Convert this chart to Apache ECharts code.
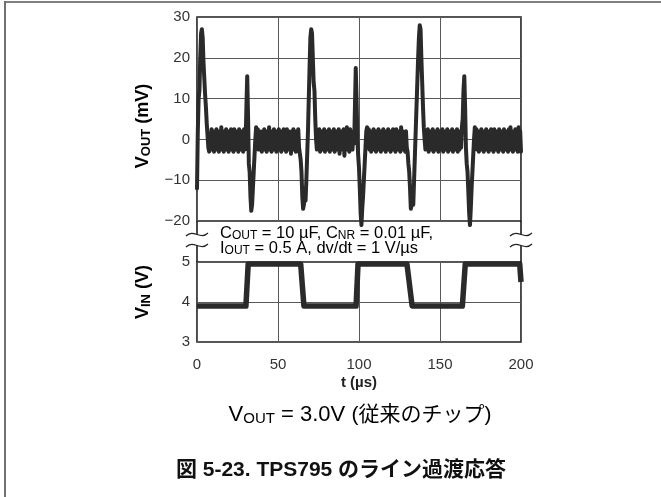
<!DOCTYPE html>
<html>
<head>
<meta charset="utf-8">
<script src="https://cdn.jsdelivr.net/npm/echarts@6/dist/echarts.min.js"></script>
<style>
  html, body { margin: 0; padding: 0; background: #ffffff; }
  #chart { width: 661px; height: 497px; }
</style>
</head>
<body>
<div id="chart"></div>
<script>
// Axis ticks
const timeTicks = [0, 50, 100, 150, 200];      // t (µs)
const voutTicks = [-20, -10, 0, 10, 20, 30];   // VOUT (mV)
const vinTicks = [3, 4, 5];                    // VIN (V)

// Output voltage deviation, sampled every 0.5 µs from t = 0
const voutStartUs = 0;
const voutStepUs = 0.5;
const voutMv = [
  // 0 – 9.5 µs
  -12, 2, 10, 12, 20, 26, 27, 25, 19, 15, 11, 8, 4, 1, -2, -3, 1.5, -2.5, 2.5, -2,
  // 10 – 19.5 µs
  1, -3, 2, -2.5, 2.5, -2, 1.5, -3, 2, -2.5, 3, -2, 1, -3, 2, -2.5, 2.5, -2, 1.5, -3,
  // 20 – 29.5 µs
  2, -2.5, 2.5, -2, 1, -3, 2.5, -2.5, 2, -2, 1.5, -3, 2.5, -2.5, 2, -2, 1, -3, 2.5, -2.5,
  // 30 – 39.5 µs
  -1, 8, 15.5, 6, -6, -8, -14, -17.5, -16, -12, -8, -4, 0, 3, -2, 2.5, -2.5, 2, -2, 1.5,
  // 40 – 49.5 µs
  -3, 2, -2.5, 2.5, -2, 1, -3, 2, -2.5, 3, -2, 1.5, -3, 2, -2.5, 2.5, -2, 1, -3, 2,
  // 50 – 59.5 µs
  -2.5, 2.5, -2, 1.5, -3, 2, -2.5, 2.5, -2, 1, -3, 2.5, -2.5, 2, -2, 1.5, -3.5, 2, -2.5, 2.5,
  // 60 – 69.5 µs
  -2, 1.5, -3, 2, -2.5, 2.5, -2, -2, -5, -8, -14, -17, -16, -12, -15, -10, -4, 2, 10, 18,
  // 70 – 79.5 µs
  25, 27, 26, 20, 14, 12, 5, 0, -2.5, 2, -2, 2.5, -3, 1.5, -2.5, 2, -2, 2.5, -3, 1,
  // 80 – 89.5 µs
  -2.5, 2, -2, 2.5, -3, 1.5, -2.5, 2, -2, 2.5, -3, 1, -2.5, 2, -2, 2.5, -3.5, 1.5, -2.5, 2,
  // 90 – 99.5 µs
  -2, 2.5, -4, 1.5, -2.5, 3, -2, 2, -3, 2.5, -2, 1.5, -2.5, 2, -1, 8, 17.5, 10, 0, -4,
  // 100 – 109.5 µs
  -7, -12, -18, -21, -17, -14, -10, -6, -2, 2, 3, -2, 2.5, -2.5, 2, -3, 1.5, -2, 2.5, -2.5,
  // 110 – 119.5 µs
  2, -3, 1, -2.5, 2.5, -2, 2, -3, 1.5, -2.5, 2.5, -2, 1, -3, 2, -2.5, 2.5, -2, 1.5, -3,
  // 120 – 129.5 µs
  2, -2.5, 2.5, -2, 1, -3, 2.5, -2.5, 2, -2, 1.5, -3, 3, -2.5, 2, -2, 1.5, -3, 2, -2,
  // 130 – 139.5 µs
  -3, -6, -8, -12, -17, -16, -13, -16, -10, -4, 2, 8, 14, 20, 25, 28, 27, 20, 14, 8,
  // 140 – 149.5 µs
  3, 0, -2.5, 2, -2, 2.5, -3, 1.5, -2.5, 2, -2, 2.5, -3, 1, -2.5, 2, -2, 2.5, -3, 1.5,
  // 150 – 159.5 µs
  -2.5, 2, -2, 2.5, -3, 1, -2.5, 2, -2, 2.5, -3, 1.5, -2.5, 2, -2, 2.5, -3, 1.5, -2.5, 2,
  // 160 – 169.5 µs
  -2, 2.5, -3, 1.5, -2.5, 2, -2, 3, 5, 12, 15.5, 8, -2, -6, -8, -13, -18, -21, -17, -12,
  // 170 – 179.5 µs
  -8, -4, 0, 3, -2, 2.5, -2.5, 2, -3, 1.5, -2, 2.5, -2.5, 1, -3, 2, -2, 2.5, -2.5, 1.5,
  // 180 – 189.5 µs
  -3, 2, -2, 2.5, -2.5, 1, -3, 2.5, -2, 2, -2.5, 1.5, -3, 2.5, -2, 2, -2.5, 1, -3, 2.5,
  // 190 – 200 µs
  -2, 2, -2.5, 1.5, -3, 2.5, -2, 3, -2.5, 1.5, -3, 2, -2, 2.5, -2.5, 1.5, -3, 3, -2.5, 2,
  -3
];

// Input voltage step waveform (corner points)
const vinTimeUs = [0, 30.2, 31.6, 64.0, 66.0, 98.2, 99.4, 129.6, 132.8, 163.8, 165.6, 199.2, 200];
const vinVolts  = [3.9, 3.9, 4.95, 4.95, 3.9, 3.9, 4.95, 4.95, 3.9, 3.9, 4.95, 4.95, 4.5];

const voutPoints = voutMv.map((v, i) => [voutStartUs + i * voutStepUs, v]);
const vinPoints = vinTimeUs.map((t, i) => [t, vinVolts[i]]);

const withMinus = v => (v < 0 ? '\u2212' + Math.abs(v) : String(v));

const LATIN = "'Liberation Sans', Arial, Helvetica, sans-serif";
const CJK = "'Liberation Sans', 'Noto Sans CJK JP', sans-serif";
const INK = '#222222';
const TRACE = '#2a2a2a';
const GRIDLINE = '#595959';
const FRAME = '#1c1c1c';

// Plot area geometry
const plotLeft = 197, plotWidth = 324;
const topPanel = { top: 17, height: 204 };
const bottomPanel = { top: 262, height: 80 };
const plotRight = plotLeft + plotWidth;
const gapTop = topPanel.top + topPanel.height;
const gapBottom = bottomPanel.top;

const tickLabel = { fontFamily: LATIN, fontSize: 15, color: '#333333' };

function breakMark(cx, cy) {
  return {
    type: 'bezierCurve',
    shape: { x1: cx - 11, y1: cy + 1.5, cpx1: cx - 3, cpy1: cy - 6, cpx2: cx + 3, cpy2: cy + 6, x2: cx + 11, y2: cy - 1.5 },
    style: { stroke: INK, lineWidth: 1.3, fill: null },
    z: 20
  };
}
function vLine(x, y1, y2, w, color) {
  return { type: 'line', shape: { x1: x, y1: y1, x2: x, y2: y2 }, style: { stroke: color, lineWidth: w }, z: 20 };
}

const subRich = (size, sub, weight) => ({
  m: { fontFamily: LATIN, fontSize: size, fontWeight: weight, lineHeight: size + 1, color: INK },
  s: { fontFamily: LATIN, fontSize: sub, fontWeight: weight, lineHeight: sub - 3, verticalAlign: 'bottom', color: INK }
});

const chart = echarts.init(document.getElementById('chart'), null, { renderer: 'canvas' });

chart.setOption({
  animation: false,
  backgroundColor: '#ffffff',
  textStyle: { fontFamily: LATIN },
  grid: [
    { left: plotLeft, top: topPanel.top, width: plotWidth, height: topPanel.height,
      show: true, borderColor: FRAME, borderWidth: 1.6, backgroundColor: 'transparent' },
    { left: plotLeft, top: bottomPanel.top, width: plotWidth, height: bottomPanel.height,
      show: true, borderColor: FRAME, borderWidth: 1.6, backgroundColor: 'transparent' }
  ],
  xAxis: [
    { gridIndex: 0, type: 'value', min: timeTicks[0], max: timeTicks[timeTicks.length - 1], interval: 50,
      axisLine: { show: false }, axisTick: { show: false }, axisLabel: { show: false },
      splitLine: { show: true, lineStyle: { color: GRIDLINE, width: 1 } } },
    { gridIndex: 1, type: 'value', min: timeTicks[0], max: timeTicks[timeTicks.length - 1], interval: 50,
      axisLine: { show: false }, axisTick: { show: false },
      axisLabel: Object.assign({ margin: 15, formatter: withMinus }, tickLabel),
      splitLine: { show: true, lineStyle: { color: GRIDLINE, width: 1 } },
      name: 't (µs)', nameLocation: 'middle', nameGap: 33,
      nameTextStyle: { fontFamily: LATIN, fontSize: 15, fontWeight: 'bold', color: INK } }
  ],
  yAxis: [
    { gridIndex: 0, type: 'value', min: voutTicks[0], max: voutTicks[voutTicks.length - 1], interval: 10,
      axisLine: { show: false }, axisTick: { show: false },
      axisLabel: Object.assign({ margin: 7, formatter: withMinus }, tickLabel),
      splitLine: { show: true, lineStyle: { color: GRIDLINE, width: 1 } } },
    { gridIndex: 1, type: 'value', min: vinTicks[0], max: vinTicks[vinTicks.length - 1], interval: 1,
      axisLine: { show: false }, axisTick: { show: false },
      axisLabel: Object.assign({ margin: 7, formatter: withMinus }, tickLabel),
      splitLine: { show: true, lineStyle: { color: GRIDLINE, width: 1 } } }
  ],
  series: [
    { name: 'VOUT', type: 'line', xAxisIndex: 0, yAxisIndex: 0, data: voutPoints,
      symbol: 'none', clip: false, silent: true, z: 5,
      lineStyle: { color: TRACE, width: 4, join: 'round', cap: 'round' } },
    { name: 'VIN', type: 'line', xAxisIndex: 1, yAxisIndex: 1, data: vinPoints,
      symbol: 'none', clip: false, silent: true, z: 5,
      lineStyle: { color: TRACE, width: 5.5, join: 'round' } }
  ],
  graphic: [
    // page frame (top and left rules)
    { type: 'line', shape: { x1: 5, y1: 2, x2: 661, y2: 2 }, style: { stroke: '#808080', lineWidth: 2 } },
    { type: 'line', shape: { x1: 5, y1: 1, x2: 5, y2: 497 }, style: { stroke: '#707070', lineWidth: 2 } },

    // broken axis between the two panels
    vLine(plotLeft, gapTop, gapTop + 13.5, 1.6, FRAME),
    vLine(plotLeft, gapBottom - 16.5, gapBottom, 1.6, FRAME),
    vLine(plotRight, gapTop, gapTop + 13.5, 1.6, FRAME),
    vLine(plotRight, gapBottom - 16.5, gapBottom, 1.6, FRAME),
    breakMark(plotLeft, gapTop + 13.5),
    breakMark(plotLeft, gapBottom - 16.5),
    breakMark(plotRight, gapTop + 13.5),
    breakMark(plotRight, gapBottom - 16.5),

    // test conditions
    { type: 'text', x: 220, y: 233, z: 30,
      style: { text: '{m|C}{s|OUT}{m| = 10 µF, C}{s|NR}{m| = 0.01 µF,}', rich: subRich(16.5, 12, 'normal'),
               align: 'left', verticalAlign: 'middle' } },
    { type: 'text', x: 220, y: 248, z: 30,
      style: { text: '{m|I}{s|OUT}{m| = 0.5 A, dv/dt = 1 V/µs}', rich: subRich(16.5, 12, 'normal'),
               align: 'left', verticalAlign: 'middle' } },

    // axis titles
    { type: 'text', x: 143, y: 126, rotation: Math.PI / 2, z: 30,
      style: { text: '{m|V}{s|OUT}{m| (mV)}', rich: subRich(18, 13, 'bold'), align: 'center', verticalAlign: 'middle' } },
    { type: 'text', x: 143, y: 292, rotation: Math.PI / 2, z: 30,
      style: { text: '{m|V}{s|IN}{m| (V)}', rich: subRich(18, 13, 'bold'), align: 'center', verticalAlign: 'middle' } },

    // condition line under the chart
    { type: 'text', x: 360, y: 415, z: 30,
      style: {
        text: '{m|V}{s|OUT}{m| = 3.0V }{j|(従来のチップ)}',
        rich: Object.assign(subRich(22, 15, 'normal'), {
          j: { fontFamily: CJK, fontSize: 21, lineHeight: 23, color: '#4a4a4a' }
        }),
        align: 'center', verticalAlign: 'middle'
      } },

    // figure caption
    { type: 'text', x: 341, y: 470, z: 30,
      style: { text: '図 5-23. TPS795 のライン過渡応答', font: "bold 21px 'Liberation Sans', 'Noto Sans CJK JP', sans-serif",
               fill: '#111111', align: 'center', verticalAlign: 'middle' } }
  ]
});
</script>
</body>
</html>
